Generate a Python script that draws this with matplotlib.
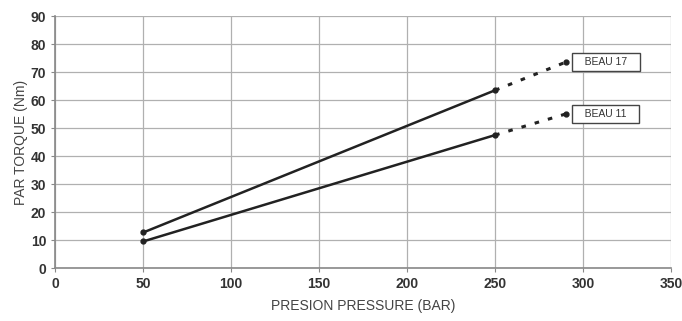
import matplotlib
matplotlib.use('Agg')
import matplotlib.pyplot as plt

pressure = [50, 250]
beau17 = [12.7, 63.5]
beau11 = [9.5, 47.5]
pressure_ext = [250, 290]
beau17_ext = [63.5, 73.5]
beau11_ext = [47.5, 55.0]
labels = ['BEAU 17', 'BEAU 11']

plt.rcParams['font.family'] = ['Liberation Sans', 'DejaVu Sans']

fig = plt.figure(figsize=(6.82, 3.21), dpi=100)
ax = fig.add_axes([0.081, 0.165, 0.903, 0.785])

ax.set_xlim(0, 350)
ax.set_ylim(0, 90)
ax.set_xticks(range(0, 351, 50))
ax.set_yticks(range(0, 91, 10))
ax.grid(True, color='#b0b0b0', linewidth=0.9)
ax.set_axisbelow(True)
for s in ['top', 'right']:
    ax.spines[s].set_visible(False)
for s in ['left', 'bottom']:
    ax.spines[s].set_color('#888888')
    ax.spines[s].set_linewidth(1.2)
ax.tick_params(length=3, color='#888888', labelsize=10, labelcolor='#333333')
for t in ax.get_xticklabels() + ax.get_yticklabels():
    t.set_fontweight('bold')

for ys, ye, lab in [(beau17, beau17_ext, labels[0]), (beau11, beau11_ext, labels[1])]:
    ax.plot(pressure, ys, color='#222222', lw=1.8, marker='o', ms=3.5)
    ax.plot(pressure_ext, ye, color='#222222', lw=2.2, ls=(0, (1.5, 3)))
    ax.plot(pressure_ext[-1:], ye[-1:], 'o', color='#222222', ms=3.5)
    ax.text(pressure_ext[-1] + 6, ye[-1], '   ' + lab + '   ', fontsize=7.5, color='#333333',
            va='center', ha='left',
            bbox=dict(boxstyle='square,pad=0.4', fc='white', ec='#444444', lw=1.0))

ax.set_xlabel('PRESION PRESSURE (BAR)', fontsize=10, color='#444444', labelpad=6)
ax.set_ylabel('PAR TORQUE (Nm)', fontsize=10, color='#444444', labelpad=2)

fig.savefig('out.png', dpi=100)
